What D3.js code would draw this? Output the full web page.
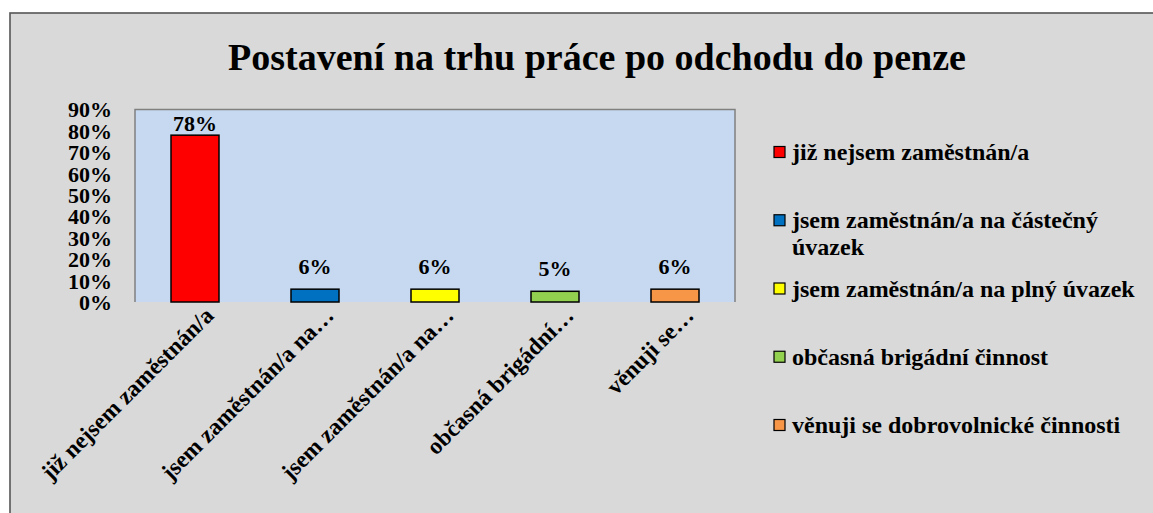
<!DOCTYPE html>
<html>
<head>
<meta charset="utf-8">
<script src="https://cdn.jsdelivr.net/npm/d3@7"></script>
<style>
  html, body { margin: 0; padding: 0; background: #ffffff; }
  svg text, svg tspan { font-family: "Liberation Serif", "Times New Roman", serif; font-weight: bold; fill: #000; }
</style>
</head>
<body>
<svg id="chart" width="1153" height="513"></svg>
<script>
const title = "Postavení na trhu práce po odchodu do penze";
const categories = [
  "již nejsem zaměstnán/a",
  "jsem zaměstnán/a na částečný úvazek",
  "jsem zaměstnán/a na plný úvazek",
  "občasná brigádní činnost",
  "věnuji se dobrovolnické činnosti"
];
const axisLabels = [
  "již nejsem zaměstnán/a",
  "jsem zaměstnán/a na…",
  "jsem zaměstnán/a na…",
  "občasná brigádní…",
  "věnuji se…"
];
const values = [0.78, 0.06, 0.06, 0.05, 0.06];
const valueLabels = ["78%", "6%", "6%", "5%", "6%"];
const colors = ["#ff0000", "#0070c0", "#ffff00", "#92d050", "#f79646"];
const yTicks = [0, 0.1, 0.2, 0.3, 0.4, 0.5, 0.6, 0.7, 0.8, 0.9];

const FONT = "'Liberation Serif', 'Times New Roman', serif";
const svg = d3.select("#chart");

// chart background
svg.append("rect")
  .attr("x", 10).attr("y", 13).attr("width", 1160).attr("height", 520)
  .attr("fill", "#d9d9d9").attr("stroke", "#555555").attr("stroke-width", 1.6);

// title
svg.append("text")
  .attr("x", 597).attr("y", 70)
  .attr("text-anchor", "middle")
  .attr("font-family", FONT).attr("font-weight", "bold")
  .attr("font-size", 38)
  .text(title);

const plot = { left: 135, right: 735, top: 109.5, bottom: 302 };

const x = d3.scaleBand().domain(d3.range(categories.length))
  .range([plot.left, plot.right]).paddingInner(0.6).paddingOuter(0.3);
const y = d3.scaleLinear().domain([0, 0.9]).range([plot.bottom, plot.top]);

// plot area
svg.append("rect")
  .attr("x", plot.left).attr("y", plot.top)
  .attr("width", plot.right - plot.left).attr("height", plot.bottom - plot.top)
  .attr("fill", "#c6d9f1");
svg.append("path")
  .attr("d", `M${plot.left},${plot.bottom}V${plot.top}H${plot.right}V${plot.bottom}`)
  .attr("fill", "none").attr("stroke", "#808080").attr("stroke-width", 1.5);

// y axis
const yAxis = d3.axisLeft(y).tickValues(yTicks).tickFormat(d3.format(".0%")).tickSize(0).tickPadding(23);
const gy = svg.append("g").attr("transform", `translate(${plot.left},0)`).call(yAxis);
gy.select(".domain").remove();
gy.attr("font-family", null).attr("font-size", null);
gy.selectAll("text").attr("font-size", 22).attr("font-family", FONT).attr("font-weight", "bold").attr("dy", "0.34em");

// bars
svg.append("g").selectAll("rect").data(values).join("rect")
  .attr("x", (d, i) => x(i))
  .attr("y", d => y(d))
  .attr("width", x.bandwidth())
  .attr("height", d => y(0) - y(d))
  .attr("fill", (d, i) => colors[i])
  .attr("stroke", "#000").attr("stroke-width", 1.5);

// data labels
svg.append("g").selectAll("text").data(values).join("text")
  .attr("x", (d, i) => x(i) + x.bandwidth() / 2)
  .attr("y", d => Math.max(y(d) - 15, plot.top + 21))
  .attr("text-anchor", "middle")
  .attr("font-family", FONT).attr("font-weight", "bold")
  .attr("font-size", 22)
  .text((d, i) => valueLabels[i]);

// x axis labels
svg.append("g").selectAll("text").data(axisLabels).join("text")
  .attr("transform", (d, i) => `translate(${x(i) + x.bandwidth() / 2 + 20},317) rotate(-45)`)
  .attr("text-anchor", "end")
  .attr("font-family", FONT).attr("font-weight", "bold")
  .attr("font-size", 23.5)
  .text(d => d);

// legend
const legendX = 774, legendY0 = 152, legendStep = 68.25, lineH = 27, maxW = 355;
const lg = svg.append("g");
categories.forEach((c, i) => {
  const cy = legendY0 + i * legendStep;
  lg.append("rect")
    .attr("x", legendX).attr("y", cy - 5.5).attr("width", 11).attr("height", 11)
    .attr("fill", colors[i]).attr("stroke", "#000").attr("stroke-width", 1.2);
  const t = lg.append("text").attr("x", legendX + 18).attr("y", cy)
    .attr("font-family", FONT).attr("font-weight", "bold").attr("font-size", 24);
  const words = c.split(" ");
  let line = [], lineNo = 0;
  let tspan = t.append("tspan").attr("x", legendX + 18).attr("dy", "0.34em");
  words.forEach(w => {
    line.push(w);
    tspan.text(line.join(" "));
    if (tspan.node().getComputedTextLength() > maxW && line.length > 1) {
      line.pop();
      tspan.text(line.join(" "));
      line = [w];
      lineNo++;
      tspan = t.append("tspan").attr("x", legendX + 18).attr("y", cy + lineNo * lineH).attr("dy", "0.34em").text(w);
    }
  });
});
</script>
</body>
</html>
